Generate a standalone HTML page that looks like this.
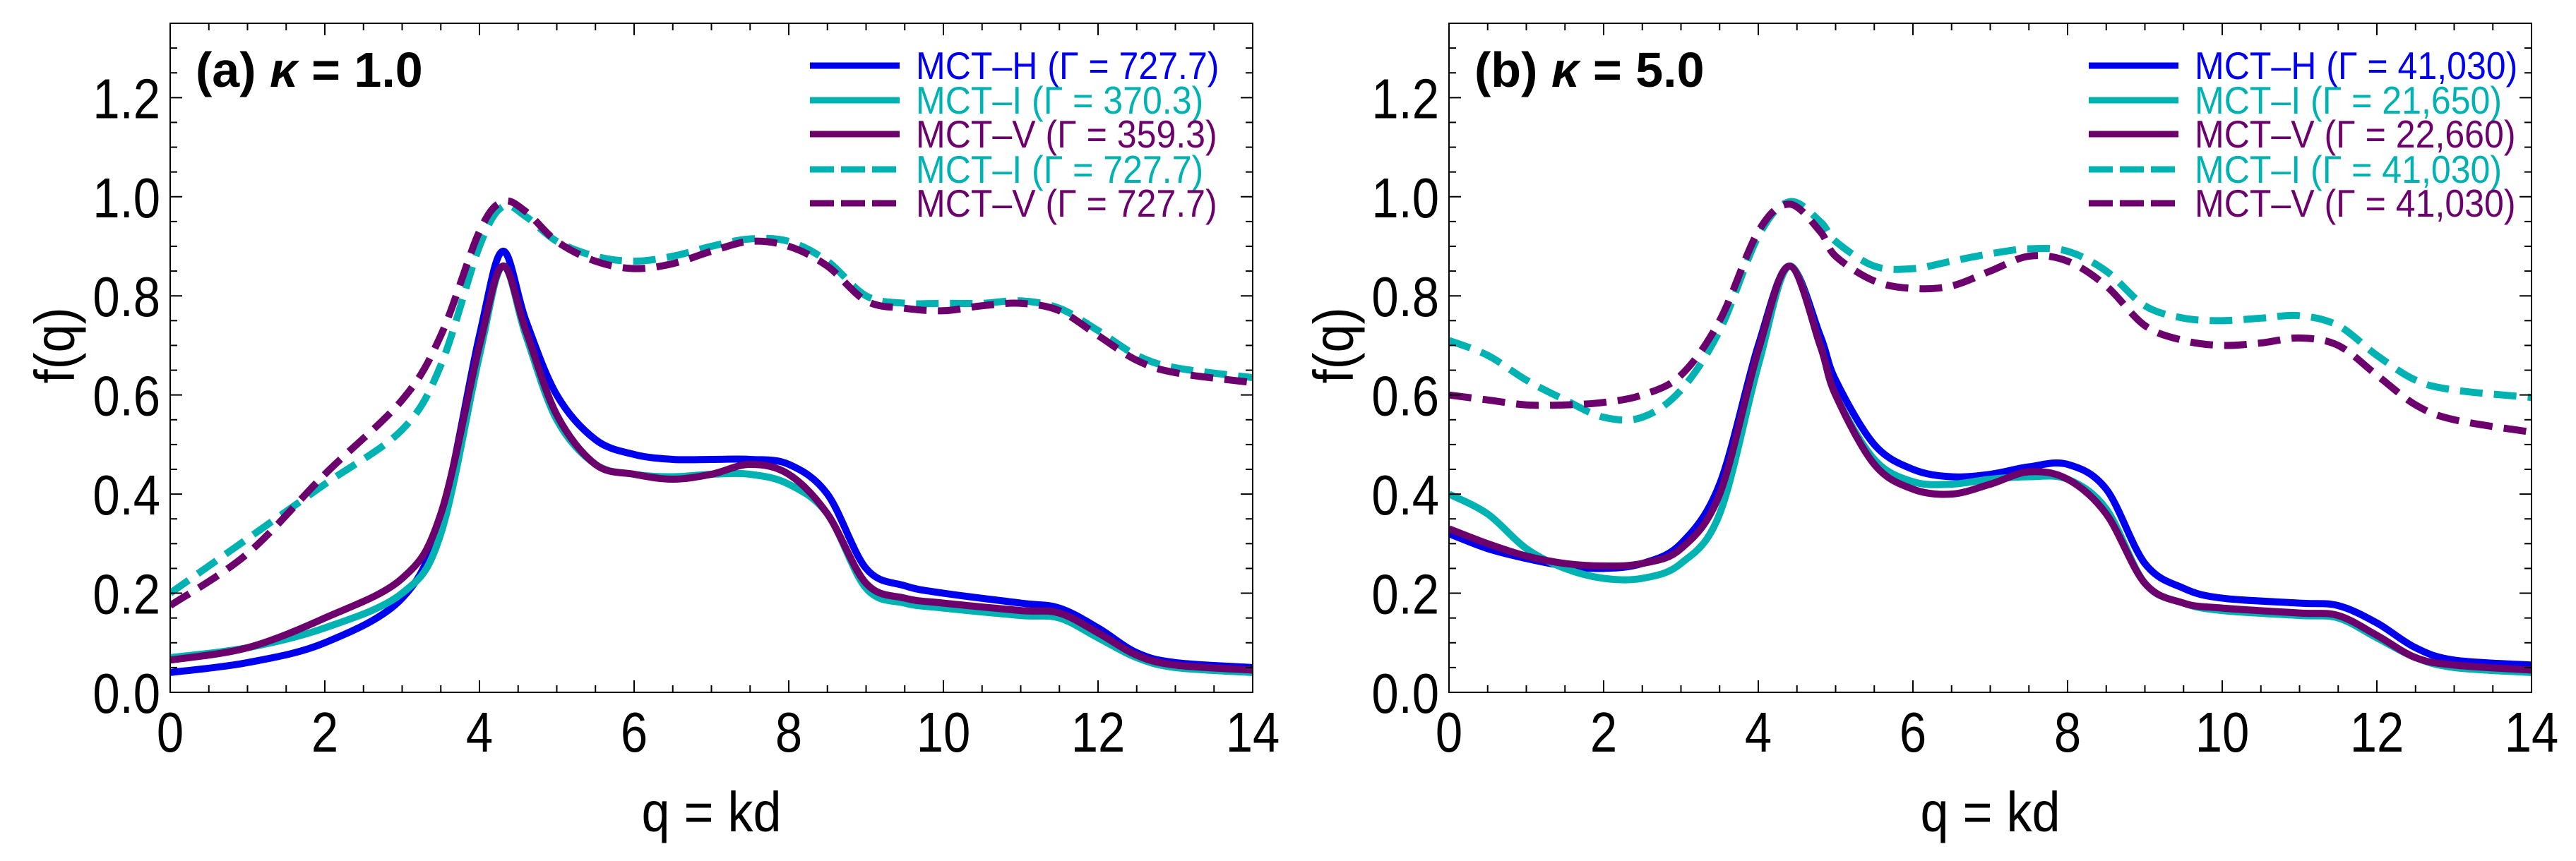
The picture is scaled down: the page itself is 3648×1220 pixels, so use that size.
<!DOCTYPE html>
<html><head><meta charset="utf-8"><style>
html,body{margin:0;padding:0;background:#fff;}
svg{display:block;font-family:"Liberation Sans",sans-serif;}
</style></head><body>
<svg id="chart" width="3648" height="1220" viewBox="0 0 3648 1220" xmlns="http://www.w3.org/2000/svg"></svg>
<script>
// ---- data ----
const qA = [0,1,2,3,3.5,4,4.3,4.6,5,5.5,6,6.5,7,7.5,8,8.5,9,9.5,10,11,11.5,12,12.5,13,14];
const aH = [0.04,0.06,0.10,0.19,0.35,0.72,0.89,0.75,0.60,0.51,0.48,0.47,0.47,0.47,0.46,0.40,0.25,0.215,0.20,0.18,0.17,0.13,0.08,0.06,0.05];
const aI = [0.07,0.09,0.13,0.20,0.32,0.68,0.86,0.72,0.55,0.46,0.44,0.435,0.44,0.44,0.42,0.36,0.21,0.18,0.17,0.155,0.15,0.11,0.07,0.05,0.04];
const aV = [0.065,0.09,0.15,0.23,0.36,0.70,0.86,0.73,0.56,0.46,0.44,0.43,0.44,0.46,0.44,0.36,0.22,0.19,0.18,0.165,0.16,0.12,0.075,0.055,0.045];
const qAd = [0,1,2,3,3.5,4,4.3,4.6,5,5.5,6,6.5,7,7.5,8,8.5,9,9.5,10,10.5,11,11.5,12,12.5,13,14];
const aId = [0.20,0.31,0.42,0.53,0.66,0.90,0.98,0.96,0.91,0.88,0.87,0.88,0.90,0.915,0.91,0.87,0.80,0.785,0.785,0.785,0.79,0.775,0.73,0.68,0.655,0.635];
const aVd = [0.175,0.28,0.44,0.59,0.72,0.93,0.99,0.97,0.91,0.87,0.855,0.865,0.89,0.91,0.90,0.86,0.79,0.775,0.77,0.78,0.785,0.77,0.72,0.67,0.645,0.625];
const qB = [0,0.5,1,1.5,2,2.5,3,3.5,4,4.4,4.8,5,5.5,6,6.5,7,7.5,8,8.5,9,9.5,10,11,11.5,12,12.5,13,14];
const bH = [0.32,0.29,0.27,0.255,0.25,0.26,0.30,0.42,0.70,0.86,0.72,0.63,0.50,0.45,0.435,0.44,0.455,0.46,0.41,0.26,0.21,0.19,0.18,0.175,0.14,0.09,0.065,0.055];
const bI = [0.40,0.36,0.29,0.25,0.23,0.23,0.26,0.36,0.66,0.86,0.70,0.60,0.47,0.425,0.42,0.43,0.435,0.43,0.37,0.22,0.18,0.165,0.155,0.15,0.11,0.07,0.05,0.04];
const bV = [0.33,0.30,0.275,0.26,0.255,0.26,0.29,0.40,0.69,0.86,0.70,0.60,0.46,0.41,0.40,0.42,0.445,0.43,0.36,0.22,0.18,0.17,0.16,0.155,0.115,0.07,0.055,0.045];
const qBd = [0,0.5,1,1.5,2,2.5,3,3.5,4,4.4,4.8,5,5.5,6,6.5,7,7.5,8,8.5,9,9.5,10,10.5,11,11.5,12,12.5,13,14];
const bId = [0.71,0.68,0.63,0.59,0.555,0.555,0.61,0.73,0.92,0.99,0.95,0.91,0.86,0.855,0.87,0.885,0.895,0.89,0.85,0.78,0.755,0.75,0.755,0.76,0.74,0.68,0.63,0.61,0.595];
const bVd = [0.60,0.59,0.58,0.58,0.585,0.60,0.64,0.75,0.93,0.985,0.93,0.88,0.83,0.815,0.82,0.85,0.88,0.87,0.82,0.74,0.71,0.70,0.705,0.715,0.70,0.64,0.58,0.55,0.525];
const xTicks = [0,2,4,6,8,10,12,14];
const yTicks = [0.0,0.2,0.4,0.6,0.8,1.0,1.2];
const legendA = ["MCT\u2013H (\u0393 = 727.7)","MCT\u2013I (\u0393 = 370.3)","MCT\u2013V (\u0393 = 359.3)","MCT\u2013I (\u0393 = 727.7)","MCT\u2013V (\u0393 = 727.7)"];
const legendB = ["MCT\u2013H (\u0393 = 41,030)","MCT\u2013I (\u0393 = 21,650)","MCT\u2013V (\u0393 = 22,660)","MCT\u2013I (\u0393 = 41,030)","MCT\u2013V (\u0393 = 41,030)"];

const NS="http://www.w3.org/2000/svg";
const svg=document.getElementById('chart');
const BLUE="#0000ee", CYAN="#00b2b2", PURP="#6c006c";
function mk(tag,attrs,parent){const e=document.createElementNS(NS,tag);for(const k in attrs)e.setAttribute(k,attrs[k]);(parent||svg).appendChild(e);return e;}
function txt(parent,x,y,s,size,anchor,sx,fill,weight){
  const t=mk('text',{transform:`translate(${x},${y}) scale(${sx},1)`,'font-size':size,'text-anchor':anchor,fill:fill||'#000','font-weight':weight||'normal'},parent);
  t.textContent=s;return t;}
function smooth(pts){let d=`M${pts[0][0]},${pts[0][1]}`;
  for(let i=0;i<pts.length-1;i++){const p0=pts[Math.max(0,i-1)],p1=pts[i],p2=pts[i+1],p3=pts[Math.min(pts.length-1,i+2)];
    const c1=[p1[0]+(p2[0]-p0[0])/6,p1[1]+(p2[1]-p0[1])/6],c2=[p2[0]-(p3[0]-p1[0])/6,p2[1]-(p3[1]-p1[1])/6];
    d+=` C${c1[0]},${c1[1]} ${c2[0]},${c2[1]} ${p2[0]},${p2[1]}`;}return d;}

function panel(name,x0,x1,title,legend,series){
  const y0=981,yTop=33,ymax=1.35;
  const X=v=>x0+(x1-x0)*v/14, Y=v=>y0-(y0-yTop)*v/ymax;
  const g=mk('g',{});
  
  
  const clip=mk('clipPath',{id:'clip-'+name},g);mk('rect',{x:x0,y:yTop,width:x1-x0,height:y0-yTop},clip);
  const cg=mk('g',{'clip-path':`url(#clip-${name})`},g);
  series.forEach(s=>{
    const p=mk('path',{d:smooth(s.q.map((q,i)=>[X(q),Y(s.v[i])])),fill:'none',stroke:s.c,'stroke-width':10,'stroke-linejoin':'round','stroke-dasharray':s.dash?'32 16':'none'},cg);
    
    
  });
  const frame=mk('rect',{x:x0,y:yTop,width:x1-x0,height:y0-yTop,fill:'none',stroke:'#000','stroke-width':2},g);
  
  
  for(let v=0;v<=14.001;v+=0.5){const maj=Math.abs(v%2)<1e-6;const L=maj?17:10;
    mk('line',{x1:X(v),x2:X(v),y1:y0,y2:y0-L,stroke:'#000','stroke-width':2},g);
    mk('line',{x1:X(v),x2:X(v),y1:yTop,y2:yTop+L,stroke:'#000','stroke-width':2},g);}
  for(let k=0;k<=27;k++){const v=k*0.05;const maj=k%4===0;const L=maj?17:10;
    mk('line',{x1:x0,x2:x0+L,y1:Y(v),y2:Y(v),stroke:'#000','stroke-width':2},g);
    mk('line',{x1:x1,x2:x1-L,y1:Y(v),y2:Y(v),stroke:'#000','stroke-width':2},g);}
  xTicks.forEach(v=>{const t=txt(g,X(v),1065,String(v),80,'middle',0.86);
    
    });
  yTicks.forEach(v=>{const t=txt(g,x0-14,Y(v)+29,v.toFixed(1),80,'end',0.86);
    
    });
  const xt=txt(g,(x0+x1)/2,1178,'q = kd',80,'middle',0.9);
  
  
  const yt=mk('text',{transform:`translate(${x0-136},${Y(0.7)}) rotate(-90) scale(0.9,1)`,'font-size':80,'text-anchor':'middle'},g);
  yt.textContent='f(q)';
  
  
  const tt=mk('text',{x:x0+36,y:123,'font-size':70,'font-weight':'bold'},g);
  tt.innerHTML=title[0]+'<tspan font-style="italic">\u03ba</tspan>'+title[1];
  
  
  const lx=x1-627, rows=[93,142,190,240,288];
  series.forEach((s,i)=>{
    const le=mk('g',{},g);
    
    
    mk('line',{x1:lx,x2:lx+127,y1:rows[i],y2:rows[i],stroke:s.c,'stroke-width':9,'stroke-dasharray':s.dash?'34 10':'none'},le);
    txt(le,lx+150,rows[i]+19,legend[i],55,'start',0.91,s.c);
  });
}
panel('panel-a',241,1774,['(a) ',' = 1.0'],legendA,[
  {q:qA,v:aH,c:BLUE,n:'mct-h-line'},{q:qA,v:aI,c:CYAN,n:'mct-i-line'},{q:qA,v:aV,c:PURP,n:'mct-v-line'},
  {q:qAd,v:aId,c:CYAN,dash:1,n:'mct-i-dashed-line'},{q:qAd,v:aVd,c:PURP,dash:1,n:'mct-v-dashed-line'}]);
panel('panel-b',2052,3585,['(b) ',' = 5.0'],legendB,[
  {q:qB,v:bH,c:BLUE,n:'mct-h-line'},{q:qB,v:bI,c:CYAN,n:'mct-i-line'},{q:qB,v:bV,c:PURP,n:'mct-v-line'},
  {q:qBd,v:bId,c:CYAN,dash:1,n:'mct-i-dashed-line'},{q:qBd,v:bVd,c:PURP,dash:1,n:'mct-v-dashed-line'}]);
</script>
</body></html>
